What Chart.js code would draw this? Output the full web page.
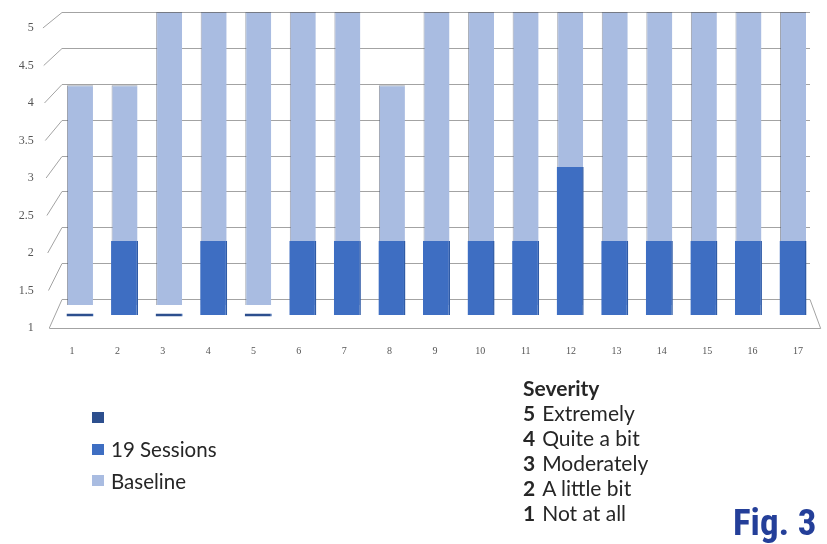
<!DOCTYPE html>
<html>
<head>
<meta charset="utf-8">
<script src="https://cdn.jsdelivr.net/npm/chart.js@4.4.1/dist/chart.umd.min.js"></script>
<style>
  html, body { margin: 0; padding: 0; background: #fff; }
  #wrap { position: relative; width: 827px; height: 544px; overflow: hidden; }
  #c { position: absolute; left: 0; top: 0; }
  #legend { position: absolute; left: 92px; top: 402px; font-family: Lato, "Open Sans", sans-serif; font-size: 20.5px; color: #262626; }
  #legend .row { height: 31.5px; display: flex; align-items: center; }
  #legend .sw { width: 12px; height: 11px; margin-right: 7px; }
  #severity { position: absolute; left: 523px; top: 375px; font-family: Lato, "Open Sans", sans-serif; font-size: 21px; line-height: 25px; color: #262626; }
  #severity b { font-weight: 700; }
  #severity .n { margin-right: 7px; }
  #fig { position: absolute; left: 733px; top: 501px; font-family: "Liberation Sans Narrow", "Roboto Condensed", sans-serif; font-weight: 700; font-size: 37px; color: #243f99; }
</style>
</head>
<body>
<div id="wrap">
  <canvas id="c" width="827" height="544"></canvas>
  <div id="legend"></div>
  <div id="severity"></div>
  <div id="fig">Fig. 3</div>
</div>
<script>
// Items 1-17, severity score per item
const categories = ['1','2','3','4','5','6','7','8','9','10','11','12','13','14','15','16','17'];
const baseline   = [4, 4, 5, 5, 5, 5, 5, 4, 5, 5, 5, 5, 5, 5, 5, 5, 5];
const sessions19 = [1, 2, 1, 2, 1, 2, 2, 2, 2, 2, 2, 3, 2, 2, 2, 2, 2];
const yTicks     = [1, 1.5, 2, 2.5, 3, 3.5, 4, 4.5, 5];
const severityLevels = [5, 4, 3, 2, 1];
const severityNames  = ['Extremely', 'Quite a bit', 'Moderately', 'A little bit', 'Not at all'];
const legendLabels   = ['', '19 Sessions', 'Baseline'];

const COL_BASE  = '#a9bce1';
const COL_SESS  = '#3e6ec2';
const COL_FLOOR = '#2d4f8e';
const GRID = '#a3a3a3';

// plot box on the canvas (front plane bottom edge / back wall top edge)
const BOX = { top: 12, bottom: 328, left: 57.7, right: 815.3 };
const H = BOX.bottom - BOX.top;

// vertical pixels per score unit at each depth of the 3-D box
const PX_FRONT_PLANE = 75, PX_BACK_WALL = 71.75, PX_BACK_ROW = 73.25, PX_FRONT_ROW = 74;
const FRONT_ROW_LIFT = 13;   // front row floor sits this far above the front edge

// 3-D box: back wall grid, depth lines to the tick labels, floor outline
const box3d = {
  id: 'box3d',
  beforeDatasetsDraw(chart) {
    const { ctx, chartArea: a, scales: s } = chart;
    const frontLeft = v => s.xl.getPixelForValue(-0.5) - (v - 1) * 1.6;
    const frontRight = s.xl.getPixelForValue(categories.length - 0.5);
    const wallL = a.left + 4.3, wallR = a.right - 5.3;
    ctx.save();
    ctx.strokeStyle = GRID;
    ctx.lineWidth = 1;
    yTicks.forEach(v => {
      const yb = Math.round(s.yBack.getPixelForValue(v)) + 0.5;
      const yf = s.y.getPixelForValue(v);
      ctx.beginPath();
      ctx.moveTo(frontLeft(v), yf);
      ctx.lineTo(wallL, yb);
      ctx.lineTo(wallR, yb);
      ctx.stroke();
    });
    const yf1 = Math.round(s.y.getPixelForValue(1)) + 0.5;
    ctx.beginPath();
    ctx.moveTo(frontLeft(1), yf1);
    ctx.lineTo(frontRight, yf1);
    ctx.lineTo(wallR, Math.round(s.yBack.getPixelForValue(1)) + 0.5);
    ctx.stroke();
    ctx.restore();
  }
};

const hiddenY = (min, max) => ({ type: 'linear', display: false, min, max });

new Chart(document.getElementById('c'), {
  type: 'bar',
  data: {
    labels: categories,
    datasets: [
      {
        label: legendLabels[1],
        data: sessions19,
        yAxisID: 'yFront',
        base: 1,
        minBarLength: 3,
        backgroundColor: c => (c.raw === 1 ? COL_FLOOR : COL_SESS),
        borderColor: '#2f5ba6',
        borderWidth: { right: 1.5, left: 0, top: 0, bottom: 0 },
        borderSkipped: false,
        barPercentage: 0.606,
        categoryPercentage: 1,
        grouped: false,
        order: 1
      },
      {
        label: legendLabels[2],
        data: baseline,
        yAxisID: 'yBase',
        base: 1,
        backgroundColor: COL_BASE,
        borderColor: 'rgba(80,90,110,0.55)',
        borderWidth: { left: 1, top: 1, right: 0, bottom: 0 },
        borderSkipped: false,
        barPercentage: 0.583,
        categoryPercentage: 1,
        grouped: false,
        order: 2
      }
    ]
  },
  options: {
    responsive: false,
    animation: false,
    layout: { padding: { top: BOX.top, right: 827 - BOX.right, left: 0, bottom: 0 } },
    plugins: { legend: { display: false }, tooltip: { enabled: false } },
    scales: {
      x: { type: 'category', display: false, offset: true },
      xl: {
        type: 'linear', position: 'bottom', offset: false,
        min: -0.3152, max: 16.3814,
        afterBuildTicks: sc => { sc.ticks = categories.map((c, i) => ({ value: i })); },
        afterFit: sc => { sc.height = 544 - BOX.bottom; sc.paddingLeft = 0; sc.paddingRight = 0; },
        grid: { display: false, offset: false }, border: { display: false },
        ticks: {
          padding: 9, color: '#555',
          font: { family: '"Liberation Serif", serif', size: 10 },
          callback: v => categories[v]
        }
      },
      y: {
        type: 'linear', position: 'left',
        min: 1, max: 1 + H / PX_FRONT_PLANE,
        afterBuildTicks: sc => { sc.ticks = yTicks.map(v => ({ value: v })); },
        afterFit: sc => { sc.width = BOX.left; sc.paddingTop = 0; sc.paddingBottom = 0; },
        grid: { display: false }, border: { display: false },
        ticks: {
          padding: 16, color: '#555',
          font: { family: '"Liberation Serif", serif', size: 12 },
          callback: v => String(v)
        }
      },
      yBack: hiddenY(5 - H / PX_BACK_WALL, 5),
      yBase: hiddenY(5 - H / PX_BACK_ROW, 5),
      yFront: hiddenY(1 - FRONT_ROW_LIFT / PX_FRONT_ROW, 1 - FRONT_ROW_LIFT / PX_FRONT_ROW + H / PX_FRONT_ROW)
    }
  },
  plugins: [box3d]
});

// legend
const legendColors = [COL_FLOOR, COL_SESS, COL_BASE];
document.getElementById('legend').innerHTML = legendLabels.map((t, i) =>
  `<div class="row"><span class="sw" style="background:${legendColors[i]}"></span><span>${t}</span></div>`
).join('');

// severity key
document.getElementById('severity').innerHTML = '<div><b>Severity</b></div>' +
  severityLevels.map((n, i) => `<div><b class="n">${n}</b>${severityNames[i]}</div>`).join('');
</script>
</body>
</html>
